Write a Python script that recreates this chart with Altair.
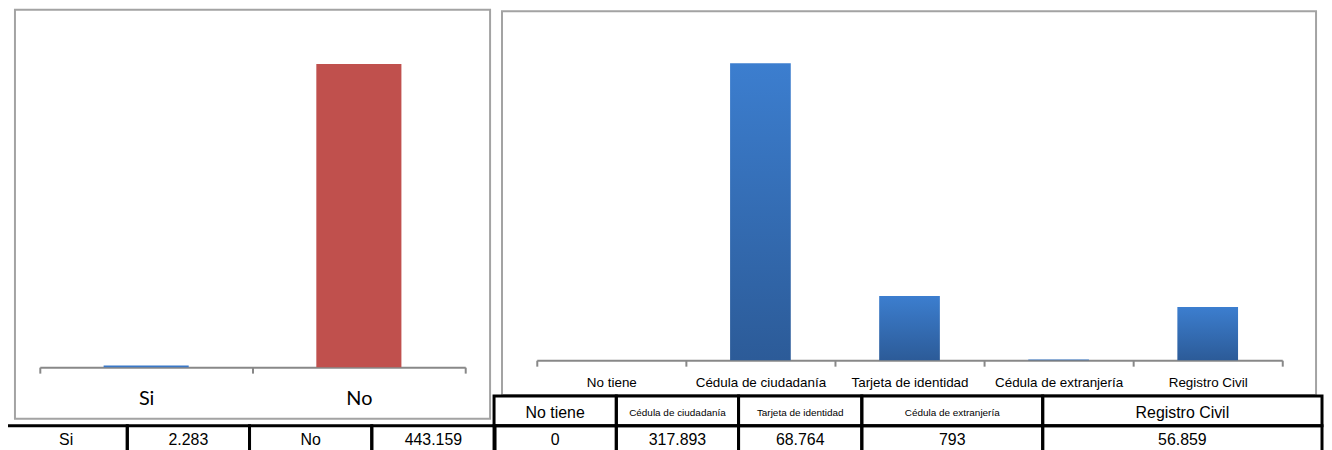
import altair as alt
import pandas as pd

# ---------------- data ----------------
ans_cats = ["Si", "No"]
ans_vals = [2283, 443159]
ans_text = ["2.283", "443.159"]

doc_cats = ["No tiene", "Cédula de ciudadanía", "Tarjeta de identidad",
            "Cédula de extranjería", "Registro Civil"]
doc_vals = [0, 317893, 68764, 793, 56859]
doc_text = ["0", "317.893", "68.764", "793", "56.859"]

# ---------------- layout (pixels, chart coordinates) ----------------
W, H = 1324, 442
LEFT_X_RANGE = [32, 460]
LEFT_Y_RANGE = [360, 16]
LEFT_Y_DOMAIN = [0, 500000]
RIGHT_X_RANGE = [532, 1282]
RIGHT_Y_RANGE = [353, 24]
RIGHT_Y_DOMAIN = [0, 350000]

LEFT_TABLE_EDGES = [-3, 120, 243, 366, 490]
RIGHT_TABLE_EDGES = [489, 612, 735, 859, 1041, 1322]
HEAD_SIZES = [16, 10, 10, 10, 16]
FONT = "Liberation Sans"

ident_x = alt.Scale(domain=[0, W], range=[0, W], zero=False, nice=False)
ident_y = alt.Scale(domain=[0, H], range=[0, H], zero=False, nice=False)

one = pd.DataFrame({"k": [0]})

# panel borders
left_border = alt.Chart(one).mark_rect(fillOpacity=0, stroke="#A3A3A3", strokeWidth=2).encode(
    x=alt.value(7), x2=alt.value(485), y=alt.value(0.5), y2=alt.value(412))
right_border = alt.Chart(one).mark_rect(fillOpacity=0, stroke="#A3A3A3", strokeWidth=2).encode(
    x=alt.value(497), x2=alt.value(1316), y=alt.value(2), y2=alt.value(388))

axis_common = dict(orient="bottom", title=None, labelAngle=0, labelColor="black",
                   labelBaseline="alphabetic", tickSize=6, tickColor="#888888",
                   domainColor="#888888", domainWidth=2, tickWidth=2,
                   tickBand="extent", grid=False)

# left bars
left_df = pd.DataFrame({"resp": ans_cats, "n": ans_vals})
left_bars = alt.Chart(left_df).mark_bar().encode(
    x=alt.X("resp:N", sort=ans_cats,
            scale=alt.Scale(domain=ans_cats, range=LEFT_X_RANGE, paddingInner=0.6, paddingOuter=0.3),
            axis=None),
    y=alt.Y("n:Q", scale=alt.Scale(domain=LEFT_Y_DOMAIN, range=LEFT_Y_RANGE, nice=False), axis=None),
    color=alt.Color("resp:N", scale=alt.Scale(domain=ans_cats, range=["#3A78C8", "#C0504D"]), legend=None),
)
left_axis = alt.Chart(left_df).mark_point(opacity=0).encode(
    x=alt.X("resp:N", sort=ans_cats,
            scale=alt.Scale(type="band", domain=ans_cats, range=LEFT_X_RANGE, paddingInner=0, paddingOuter=0),
            axis=alt.Axis(offset=-82, labelFont="Lato", labelFontSize=20, labelPadding=32,
                          **axis_common)),
    y=alt.value(0),
)

# right bars
grad = alt.LinearGradient(
    gradient="linear",
    stops=[alt.GradientStop(offset=0, color="#3C7ECF"), alt.GradientStop(offset=1, color="#2C5B98")],
    x1=0, x2=0, y1=0, y2=1)
right_df = pd.DataFrame({"doc": doc_cats, "m": doc_vals})
right_bars = alt.Chart(right_df).mark_bar(color=grad).encode(
    x=alt.X("doc:N", sort=doc_cats,
            scale=alt.Scale(domain=doc_cats, range=RIGHT_X_RANGE, paddingInner=0.593, paddingOuter=0.2965),
            axis=None),
    y=alt.Y("m:Q", scale=alt.Scale(domain=RIGHT_Y_DOMAIN, range=RIGHT_Y_RANGE, nice=False), axis=None),
)
right_axis = alt.Chart(right_df).mark_point(opacity=0).encode(
    x=alt.X("doc:N", sort=doc_cats,
            scale=alt.Scale(type="band", domain=doc_cats, range=RIGHT_X_RANGE, paddingInner=0, paddingOuter=0),
            axis=alt.Axis(offset=-89, labelFont=FONT, labelFontSize=13.5, labelPadding=20,
                          **axis_common)),
    y=alt.value(0),
)

# tables
cells = []
left_texts = [ans_cats[0], ans_text[0], ans_cats[1], ans_text[1]]
for i, t in enumerate(left_texts):
    cells.append(dict(t=t, x0=LEFT_TABLE_EDGES[i], x1=LEFT_TABLE_EDGES[i + 1], y0=419, y1=470,
                      fs=16, yb=438.5))
for i, t in enumerate(doc_cats):
    cells.append(dict(t=t, x0=RIGHT_TABLE_EDGES[i], x1=RIGHT_TABLE_EDGES[i + 1], y0=389, y1=419,
                      fs=HEAD_SIZES[i], yb=411 if HEAD_SIZES[i] > 12 else 409))
for i, t in enumerate(doc_text):
    cells.append(dict(t=t, x0=RIGHT_TABLE_EDGES[i], x1=RIGHT_TABLE_EDGES[i + 1], y0=419, y1=470,
                      fs=16, yb=438.5))
cells_df = pd.DataFrame(cells)
cells_df["xc"] = (cells_df["x0"] + cells_df["x1"]) / 2

table_rects = alt.Chart(cells_df).mark_rect(fillOpacity=0, stroke="black", strokeWidth=3).encode(
    x=alt.X("x0:Q", scale=ident_x, axis=None), x2="x1:Q",
    y=alt.Y("y0:Q", scale=ident_y, axis=None), y2="y1:Q")
table_text = alt.Chart(cells_df).mark_text(font=FONT, color="black",
                                           baseline="alphabetic", align="center").encode(
    x=alt.X("xc:Q", scale=ident_x, axis=None),
    y=alt.Y("yb:Q", scale=ident_y, axis=None),
    text="t:N",
    size=alt.Size("fs:Q", scale=None, legend=None))

chart = alt.layer(left_border, right_border, left_bars, left_axis, right_bars, right_axis,
                  table_rects, table_text).resolve_scale(
    x="independent", y="independent", color="independent", size="independent"
).properties(
    width=W, height=H, padding=0, autosize=alt.AutoSizeParams(type="none"), background="white"
).configure_view(strokeWidth=0)

chart.save("out.html", embed_options={"renderer": "svg", "actions": False})
